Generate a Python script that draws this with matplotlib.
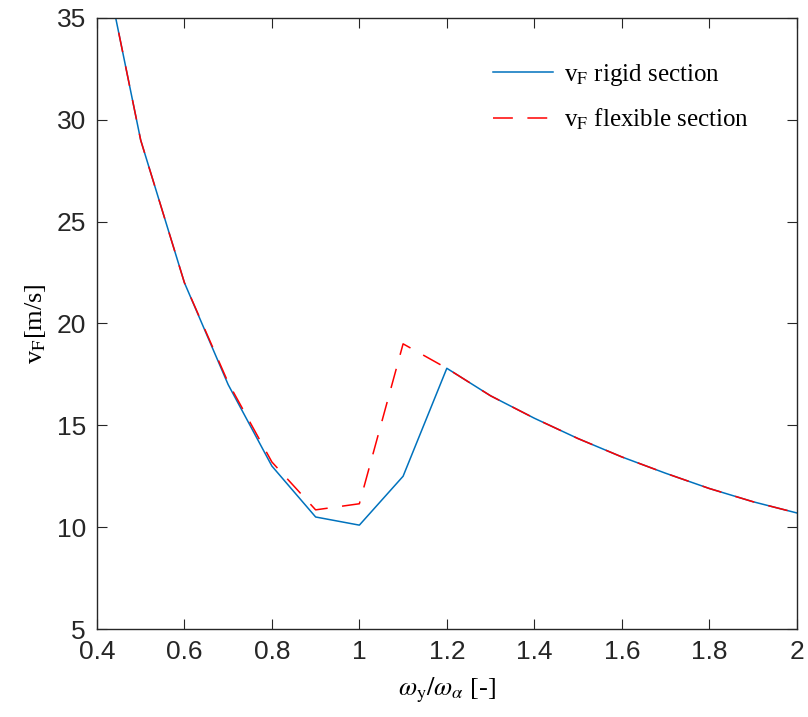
import numpy as np
import matplotlib
matplotlib.use("Agg")
import matplotlib.pyplot as plt

plt.rcParams['mathtext.fontset'] = 'stix'

# frequency ratio and flutter speeds
ratio = [0.4, 0.5, 0.6, 0.7, 0.8, 0.9, 1.0, 1.1, 1.2, 1.3, 1.4, 1.5, 1.6, 1.7, 1.8, 1.9, 2.0]
vf_rigid = [39.5, 29.0, 22.0, 17.0, 13.0, 10.5, 10.1, 12.5, 17.8, 16.45, 15.35, 14.35, 13.45, 12.65, 11.9, 11.25, 10.7]
vf_flex = [39.5, 29.0, 22.0, 17.1, 13.2, 10.85, 11.15, 19.0, 17.8, 16.45, 15.35, 14.35, 13.45, 12.65, 11.9, 11.25, 10.7]

fig = plt.figure(figsize=(8.08, 7.17), dpi=100)
ax = fig.add_axes([0.120, 0.1227, 0.866, 0.8523])

ax.plot(ratio, vf_rigid, color='#0072BD', lw=1.1, label=r'v$_{\rm F}$ rigid section')
ax.plot(ratio, vf_flex, color='#FF0000', lw=1.1, dashes=(13, 9.5), label=r'v$_{\rm F}$ flexible section')

ax.set_xlim(0.4, 2)
ax.set_ylim(5, 35)
ax.set_xticks(np.arange(0.4, 2.01, 0.2))
ax.set_xticklabels(['0.4', '0.6', '0.8', '1', '1.2', '1.4', '1.6', '1.8', '2'])
ax.set_yticks(range(5, 36, 5))

for s in ax.spines.values():
    s.set_color('#262626')
    s.set_linewidth(1.0)
ax.tick_params(direction='in', length=7, width=0.8, top=True, right=True,
               colors='#262626', labelsize=19, pad=8)
for lab in ax.get_xticklabels() + ax.get_yticklabels():
    lab.set_family('Liberation Sans')

ax.set_xlabel(r'$\omega_{\rm y}/\omega_\alpha$ [-]', family='Liberation Serif', fontsize=19, labelpad=8)
ax.set_ylabel(r'v$_{\rm F}$[m/s]', family='Liberation Serif', fontsize=19, labelpad=6)

leg = ax.legend(loc='upper left', bbox_to_anchor=(0.551, 0.945), frameon=False,
                handlelength=2.4, handletextpad=0.45, labelspacing=0.75, borderaxespad=0.0,
                prop={'family': 'Liberation Serif', 'size': 18})

fig.savefig('out.png', dpi=100)
